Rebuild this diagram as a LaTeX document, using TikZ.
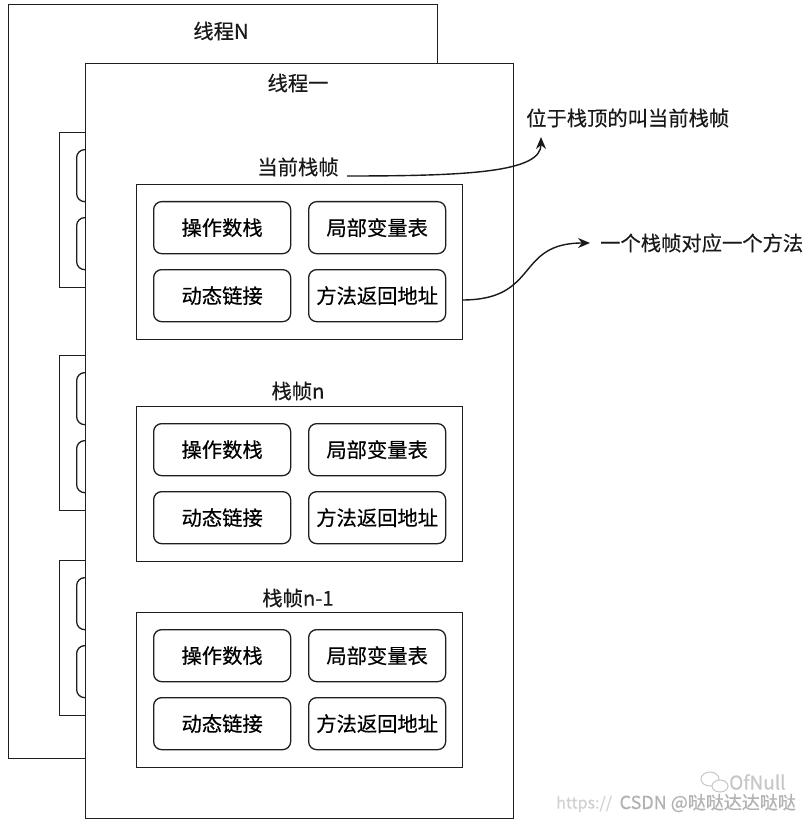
\documentclass[tikz,border=0pt]{standalone}
\usepackage{fontspec}
\setmainfont{Noto Sans CJK SC}[FakeBold=0.4]
\usetikzlibrary{arrows.meta}
\begin{document}
\begin{tikzpicture}[x=1pt,y=-1pt,
  every node/.style={font=\fontsize{20.3}{24}\selectfont, inner sep=0pt},
  thread/.style={draw=black!88, fill=white, line width=1.4pt, anchor=north west},
  fbox/.style={draw=black!88, fill=white, line width=1.4pt, anchor=north west,
     minimum width=326pt, minimum height=155pt},
  cell/.style={draw=black!88, fill=white, line width=1.3pt, rounded corners=8pt,
     anchor=north west, minimum width=137pt, minimum height=52pt},
  lbl/.style={text=black!90},
  conn/.style={draw=black!90, line width=1.4pt, -{Stealth[length=12pt,width=10pt]}},
  wmark/.style={text=gray!60},
  sframe/.pic={
    \node[fbox] (-box) at (0,0) {};
    \node[cell] (-a) at (17,17) {操作数栈};
    \node[cell] (-b) at (172,17) {局部变量表};
    \node[cell] (-c) at (17,85) {动态链接};
    \node[cell] (-d) at (172,85) {方法返回地址};
  },
  hframe/.pic={
    \node[fbox] (-box) at (0,0) {};
    \node[cell] (-a) at (17,17) {};
    \node[cell] (-b) at (172,17) {};
    \node[cell] (-c) at (17,85) {};
    \node[cell] (-d) at (172,85) {};
  }
]
\useasboundingbox (0,0) rectangle (811,826);
\fill[white] (0,0) rectangle (811,826);

% thread N (behind)
\node[thread, minimum width=429pt, minimum height=754pt] (thN) at (8,4) {};
\node[lbl] (thNt) at (221,31) {线程N};
\pic (hf1) at (59,132) {hframe};
\pic (hf2) at (59,355) {hframe};
\pic (hf3) at (59,560) {hframe};

% thread 1 (front)
\node[thread, minimum width=428pt, minimum height=755pt] (th1) at (85,63) {};
\node[lbl] (th1t) at (298,83) {线程一};

\node[lbl] (l1) at (298,167) {当前栈帧};
\pic (f1) at (136,184) {sframe};
\node[lbl] (l2) at (298,391) {栈帧n};
\pic (f2) at (136,406) {sframe};
\node[lbl] (l3) at (298,598) {栈帧n-1};
\pic (f3) at (136,612) {sframe};

% annotations
\node[lbl, anchor=west] (t1) at (526,118) {位于栈顶的叫当前栈帧};
\node[lbl, anchor=west] (t2) at (600,243) {一个栈帧对应一个方法};

\coordinate (a1s) at (347,176);
\coordinate (a1e) at (541,137);
\coordinate (a2s) at (462,300);
\coordinate (a2e) at (590,243);
\draw[conn] (a1s) .. controls (470,176) and (541,172) .. (a1e);
\draw[conn] (a2s) .. controls (540,300) and (515,243) .. (a2e);

% watermark
\node[text=gray!35, anchor=west, font=\fontsize{16}{18}\selectfont] (wm0) at (556,804) {https://};
\node[wmark, anchor=east, font=\fontsize{18}{20}\selectfont] (wm1) at (796,803) {CSDN @哒哒达达哒哒};
\node[text=gray!45, anchor=west, font=\fontsize{19}{21}\selectfont] (wm2) at (729,782) {OfNull};
\draw[gray!45, line width=1pt] (710,779) ellipse (9pt and 7pt);
\draw[gray!45, line width=1pt, fill=white] (720,786) ellipse (8pt and 6pt);
\end{tikzpicture}
\end{document}
